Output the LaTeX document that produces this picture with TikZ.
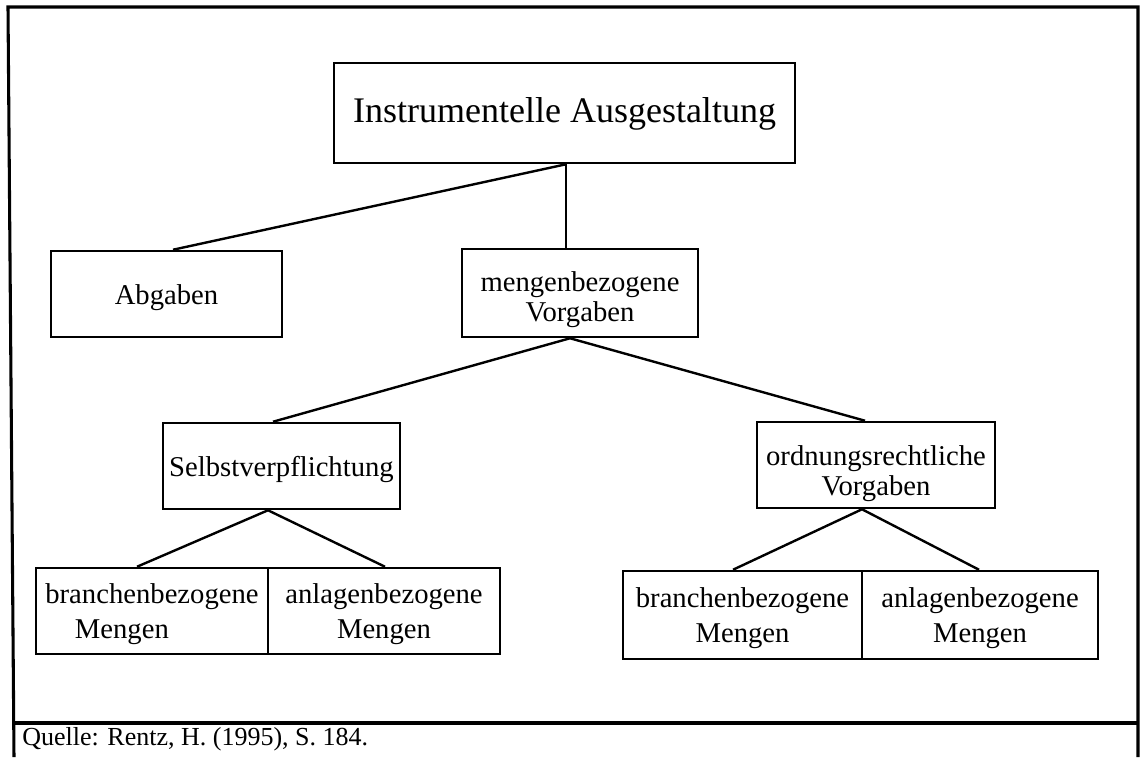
\documentclass[tikz,border=0pt]{standalone}
\usepackage{fontspec}
\setmainfont{Liberation Serif}
\usetikzlibrary{calc}
\begin{document}
\begin{tikzpicture}[x=0.75pt,y=-0.75pt,
  box/.style={draw, line width=1.9pt, inner sep=0pt, align=center, font={\fontsize{21.5}{22.5}\selectfont}},
  one/.style={text height=16pt, text depth=1pt},
  two/.style={text height=44pt, text depth=1pt},
  low/.style={text height=41.5pt, text depth=1pt, font={\fontsize{21.5}{26}\selectfont}},
  conn/.style={line width=1.8pt},
  frame/.style={line width=2.3pt}]
\useasboundingbox (0,0) rectangle (1141,757);
% frame
\draw[frame] (14,757) -- (8,7) -- (1138,7) -- (1138,757);
\draw[frame] (12,723) -- (1138,723);
% nodes
\node[box, minimum width=461*0.75pt, minimum height=100*0.75pt, text height=14.5pt, text depth=1pt, font={\fontsize{27}{30}\selectfont}] (title) at (564.5,113) {Instrumentelle Ausgestaltung};
\node[box, one, minimum width=231*0.75pt, minimum height=86*0.75pt] (abg) at (166.5,294) {Abgaben};
\node[box, two, minimum width=236*0.75pt, minimum height=88*0.75pt] (meng) at (580,293) {mengenbezogene\\Vorgaben};
\node[box, text height=46pt, text depth=1pt, minimum width=238*0.75pt, minimum height=86*0.75pt] (ord) at (876,465) {ordnungsrechtliche\\Vorgaben};
\node[box, one, minimum width=237*0.75pt, minimum height=86*0.75pt] (selbst) at (281.5,466) {Selbstverpflichtung};
\node[box, low, minimum width=232*0.75pt, minimum height=86*0.75pt] (b1) at (152,611) {branchenbezogene\\Mengen\hspace*{2.1em}};
\node[box, low, minimum width=232*0.75pt, minimum height=86*0.75pt] (a1) at (384,611) {anlagenbezogene\\Mengen};
\node[box, low, minimum width=239*0.75pt, minimum height=88*0.75pt] (b2) at (742.5,615) {branchenbezogene\\Mengen};
\node[box, low, minimum width=236*0.75pt, minimum height=88*0.75pt] (a2) at (980,615) {anlagenbezogene\\Mengen};
% connectors
\coordinate (tv) at ($(title.south)+(1.5,0)$);
\draw[conn] (tv) -- (tv |- meng.north);
\draw[conn] (tv) -- ($(abg.north)+(6.5,0)$);
\coordinate (mv) at ($(meng.south)+(-10,0)$);
\draw[conn] ($(selbst.north)+(-8.5,0)$) -- (mv) -- ($(ord.north)+(-11,0)$);
\coordinate (sv) at ($(selbst.south)+(-13.5,0)$);
\draw[conn] ($(b1.north)+(-15,0)$) -- (sv) -- ($(a1.north)+(1,0)$);
\coordinate (ov) at ($(ord.south)+(-14,0)$);
\draw[conn] ($(b2.north)+(-9.5,0)$) -- (ov) -- ($(a2.north)+(-1,0)$);
% source
\node[anchor=base west, inner sep=0pt, font={\fontsize{19.5}{22}\selectfont}] (src) at (22,745) {Quelle: Rentz, H. (1995), S. 184.};
\end{tikzpicture}
\end{document}
